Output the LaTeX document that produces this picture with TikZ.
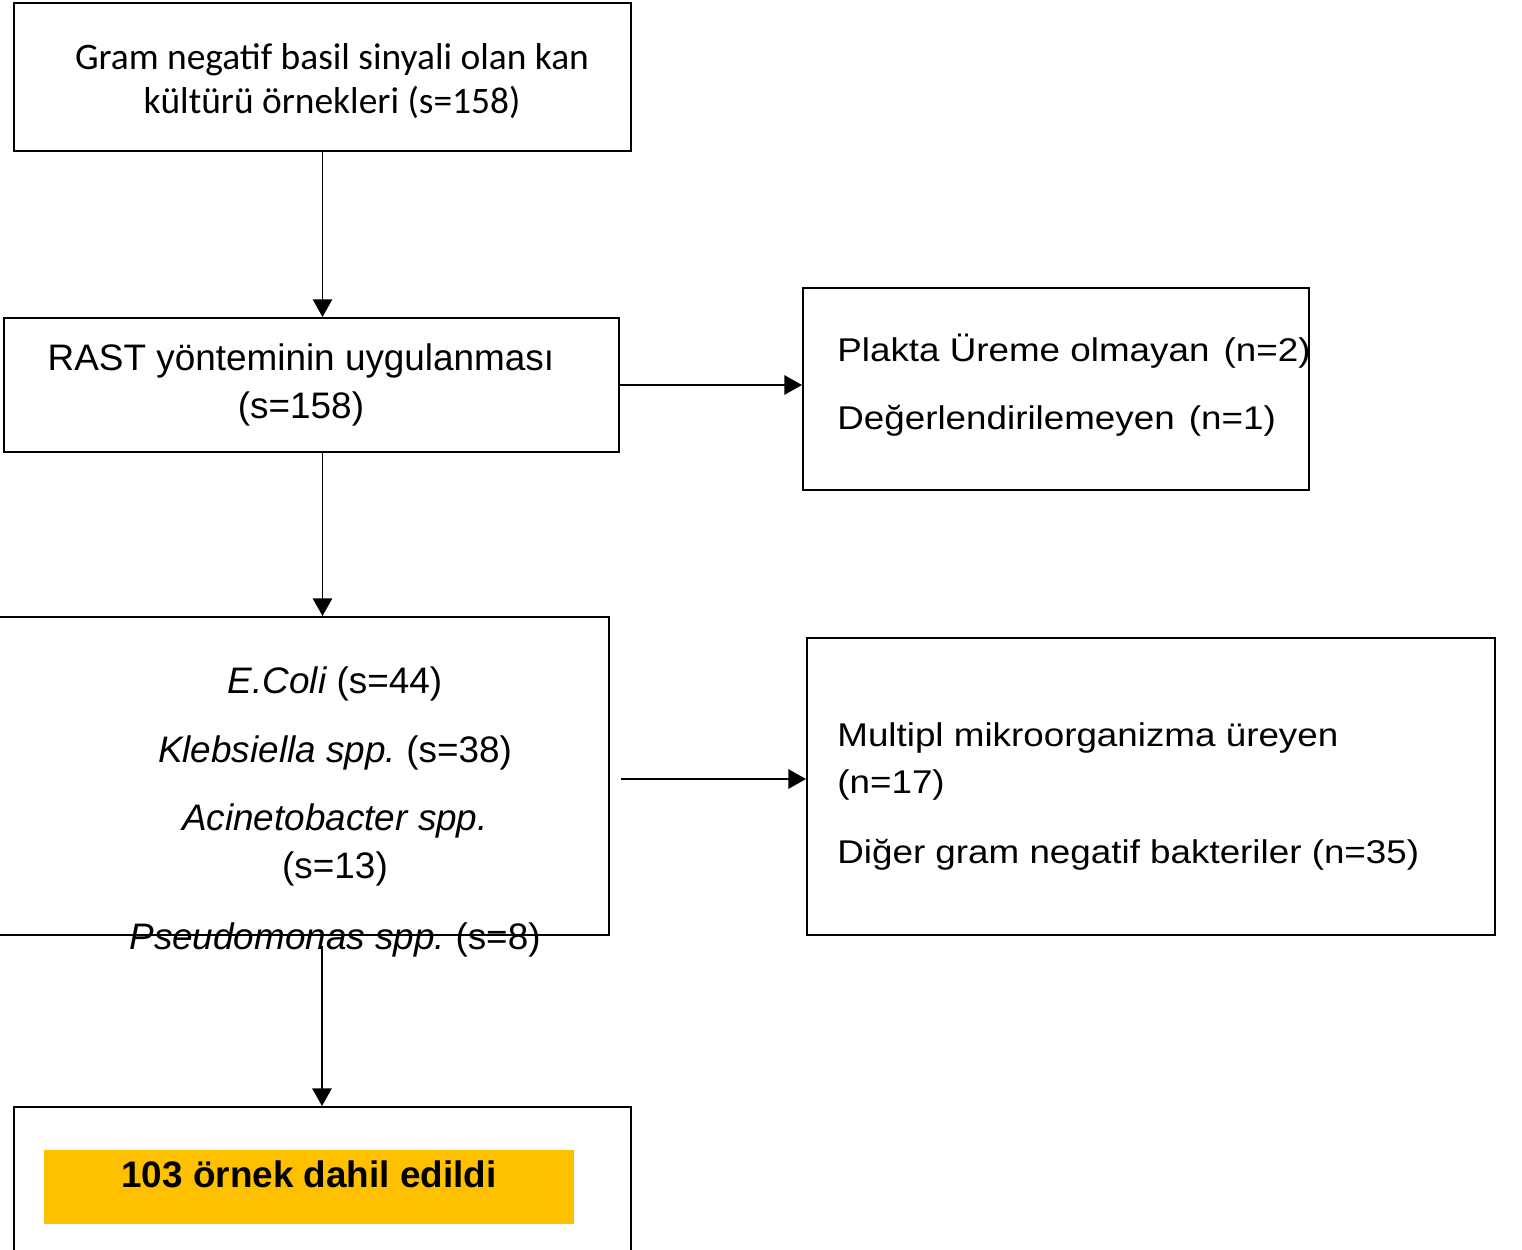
\documentclass[tikz,border=0pt]{standalone}
\usepackage{fontspec}
\setmainfont{Liberation Sans}
\newfontfamily\carlitofont{Carlito}
\newfontfamily\widefont[FakeStretch=1.12]{Liberation Sans}
\usetikzlibrary{arrows.meta}
\definecolor{includedorange}{HTML}{FFC000}
\frenchspacing

\begin{document}
\begin{tikzpicture}[x=0.02cm, y=-0.02cm,
    flowbox/.style={draw, line width=1.2pt, inner sep=0pt},
    flowtext/.style={inner sep=0pt, anchor=base, align=center,
                     font=\fontsize{21}{27.2}\selectfont},
    sidetext/.style={inner sep=0pt, anchor=base west, align=left,
                     font=\widefont\fontsize{18.7}{26.6}\selectfont},
    flowarrow/.style={draw, line width=0.9pt, -{Triangle[length=10pt, width=11pt]}}]
  \useasboundingbox (0,0) rectangle (1522,1249);
  % boxes
  \node[flowbox, minimum width=12.34cm, minimum height=2.96cm] (samples) at (322.5,77) {};
  \node[flowbox, minimum width=12.3cm, minimum height=2.68cm] (rast) at (311.5,385) {};
  \node[flowbox, minimum width=10.12cm, minimum height=4.04cm] (nogrowth) at (1056,389) {};
  \node[flowbox, minimum width=12.38cm, minimum height=6.36cm] (isolates) at (299.5,776) {};
  \node[flowbox, minimum width=13.76cm, minimum height=5.94cm] (others) at (1151,786.5) {};
  \node[flowbox, minimum width=12.34cm, minimum height=3.66cm] (included) at (322.5,1198.5) {};
  \node[fill=includedorange, inner sep=0pt, minimum width=10.6cm, minimum height=1.48cm] (includedbar) at (309,1187) {};
  % texts (base = last line)
  \node[flowtext, font=\carlitofont\fontsize{21.3}{24.9}\selectfont] (samplestext) at (332,113)
    {Gram negatif basil sinyali olan kan\\kültürü örnekleri (s=158)};
  \node[flowtext] (rasttext) at (301,418) {RAST yönteminin uygulanması\\(s=158)};
  \node[sidetext] (nogrowthtext) at (837,429)
    {Plakta Üreme olmayan\hspace{0.12em} (n=2)\\[11.9pt]Değerlendirilemeyen\hspace{0.12em} (n=1)};
  \node[flowtext, font=\fontsize{21}{27.2}\selectfont] (isolatestext) at (335,949)
    {{\itshape E.Coli} (s=44)\\[12.5pt]
     {\itshape Klebsiella spp.} (s=38)\\[11.3pt]
     {\itshape Acinetobacter spp.}\\
     (s=13)\\[13pt]
     {\itshape Pseudomonas spp.} (s=8)};
  \node[sidetext] (otherstext) at (837,863)
    {Multipl mikroorganizma üreyen\\(n=17)\\[13pt]Diğer gram negatif bakteriler (n=35)};
  \node[flowtext, font=\bfseries\fontsize{21}{24}\selectfont] (includedtext) at (309,1187)
    {103 örnek dahil edildi};
  % connectors
  \coordinate (isolatesout) at (322,946);
  \coordinate (multiout) at (621,779);
  \draw[flowarrow] (samples.south) -- (rast.north -| samples.south);
  \draw[flowarrow] (rast.south -| samples.south) -- (isolates.north -| samples.south);
  \draw[flowarrow] (isolatesout) -- (included.north -| isolatesout);
  \draw[flowarrow] (rast.east) -- (nogrowth.west |- rast.east);
  \draw[flowarrow] (multiout) -- (others.west |- multiout);
\end{tikzpicture}
\end{document}
